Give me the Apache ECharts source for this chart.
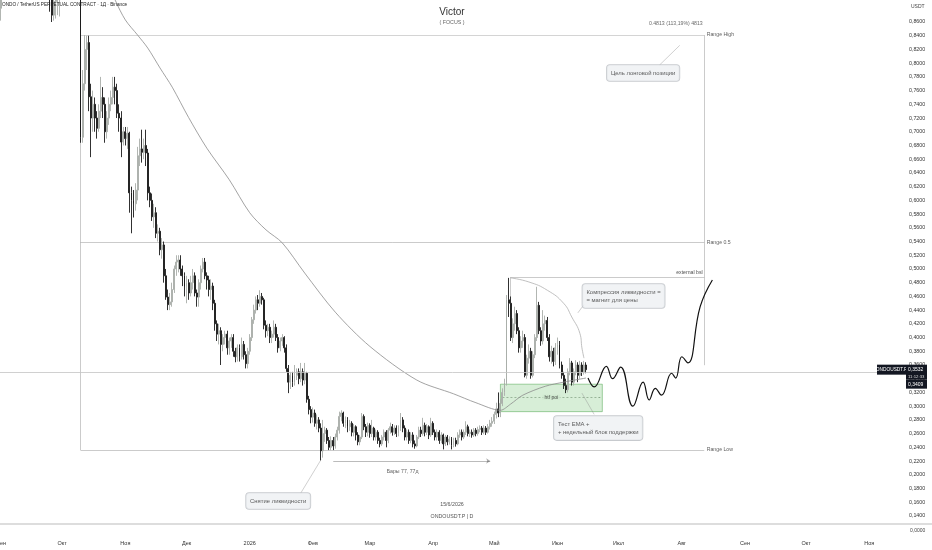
<!DOCTYPE html>
<html><head><meta charset="utf-8">
<script src="https://cdn.jsdelivr.net/npm/echarts@6/dist/echarts.min.js"></script>
<style>html,body{margin:0;padding:0;background:#fff}#c{width:932px;height:550px}</style>
</head><body><div id="c"></div><script>
// ---- DATA ----
const startDay = '2025-09-01';
const totalDays = 444;
const monthNames = ['Янв','Фев','Мар','Апр','Май','Июн','Июл','Авг','Сен','Окт','Ноя','Дек'];
// daily candles from 2025-09-01: [open, close, low, high]
const ohlc = [
[0.880,0.920,0.862,0.940],[0.920,0.940,0.900,0.960],[0.940,0.950,0.920,0.980],[0.950,0.970,0.930,0.990],[0.970,0.950,0.930,0.990],
[0.950,0.960,0.940,0.980],[0.960,0.980,0.950,1.000],[0.980,1.020,0.970,1.040],[1.020,1.050,1.000,1.070],[1.050,1.030,1.010,1.080],
[1.030,1.060,1.020,1.090],[1.060,1.080,1.040,1.110],[1.080,1.100,1.060,1.130],[1.100,1.070,1.050,1.120],[1.070,1.050,1.030,1.090],
[1.050,1.060,1.020,1.080],[1.060,1.030,1.010,1.080],[1.030,1.040,1.000,1.060],[1.040,1.000,0.980,1.050],[1.000,0.970,0.950,1.010],
[0.970,0.980,0.950,1.000],[0.980,0.940,0.920,0.990],[0.940,0.920,0.900,0.960],[0.920,0.930,0.900,0.950],[0.930,0.900,0.875,0.940],
[0.900,0.870,0.860,0.910],[0.870,0.890,0.862,0.900],[0.890,0.900,0.865,0.920],[0.900,0.910,0.870,0.930],[0.910,0.930,0.868,0.950],
[0.930,0.950,0.910,0.970],[0.950,0.970,0.930,0.990],[0.970,0.960,0.940,0.990],[0.960,0.940,0.920,0.980],[0.940,0.950,0.920,0.970],
[0.950,0.930,0.910,0.960],[0.930,0.920,0.900,0.950],[0.920,0.930,0.900,0.950],[0.930,0.910,0.895,0.940],[0.910,0.692,0.684,0.930],
[0.692,0.770,0.684,0.790],[0.770,0.820,0.760,0.841],[0.820,0.830,0.790,0.840],[0.830,0.751,0.730,0.840],[0.751,0.720,0.663,0.770],
[0.720,0.740,0.700,0.760],[0.740,0.720,0.700,0.750],[0.720,0.705,0.690,0.730],[0.705,0.730,0.700,0.740],[0.730,0.750,0.720,0.780],
[0.750,0.740,0.720,0.765],[0.740,0.700,0.684,0.750],[0.700,0.720,0.690,0.730],[0.720,0.740,0.710,0.750],[0.740,0.750,0.730,0.760],
[0.750,0.765,0.740,0.780],[0.765,0.760,0.740,0.780],[0.760,0.727,0.720,0.770],[0.727,0.720,0.700,0.740],[0.720,0.685,0.663,0.730],
[0.685,0.700,0.680,0.707],[0.700,0.690,0.680,0.707],[0.690,0.698,0.675,0.707],[0.698,0.611,0.582,0.700],[0.611,0.600,0.552,0.620],
[0.600,0.595,0.575,0.615],[0.595,0.615,0.585,0.625],[0.615,0.665,0.600,0.678],[0.665,0.675,0.650,0.690],[0.675,0.670,0.655,0.703],
[0.670,0.680,0.660,0.690],[0.680,0.669,0.650,0.703],[0.669,0.611,0.600,0.675],[0.611,0.600,0.590,0.620],[0.600,0.576,0.570,0.610],
[0.576,0.582,0.560,0.595],[0.582,0.552,0.545,0.590],[0.552,0.555,0.540,0.565],[0.555,0.528,0.520,0.560],[0.528,0.535,0.515,0.545],
[0.535,0.490,0.480,0.540],[0.490,0.459,0.455,0.500],[0.459,0.448,0.440,0.470],[0.448,0.452,0.440,0.465],[0.452,0.470,0.445,0.480],
[0.470,0.500,0.465,0.505],[0.500,0.510,0.490,0.520],[0.510,0.513,0.495,0.520],[0.513,0.500,0.490,0.520],[0.500,0.490,0.475,0.505],
[0.490,0.474,0.460,0.495],[0.474,0.480,0.450,0.490],[0.480,0.465,0.455,0.485],[0.465,0.480,0.460,0.490],[0.480,0.490,0.470,0.500],
[0.490,0.465,0.460,0.495],[0.465,0.459,0.445,0.470],[0.459,0.480,0.445,0.485],[0.480,0.500,0.470,0.505],[0.500,0.510,0.495,0.516],
[0.510,0.490,0.485,0.516],[0.490,0.484,0.470,0.495],[0.484,0.470,0.460,0.490],[0.470,0.475,0.455,0.485],[0.475,0.450,0.440,0.480],
[0.450,0.420,0.410,0.455],[0.420,0.405,0.395,0.425],[0.405,0.410,0.390,0.420],[0.410,0.390,0.360,0.415],[0.390,0.400,0.380,0.405],
[0.400,0.405,0.390,0.410],[0.405,0.385,0.375,0.410],[0.385,0.395,0.375,0.400],[0.395,0.400,0.385,0.405],[0.400,0.380,0.372,0.405],
[0.380,0.372,0.364,0.385],[0.372,0.385,0.365,0.390],[0.385,0.372,0.365,0.390],[0.372,0.390,0.368,0.400],[0.390,0.375,0.368,0.395],
[0.375,0.362,0.355,0.380],[0.362,0.380,0.355,0.385],[0.380,0.400,0.375,0.405],[0.400,0.426,0.395,0.430],[0.426,0.440,0.420,0.448],
[0.440,0.455,0.435,0.460],[0.455,0.450,0.440,0.462],[0.450,0.460,0.445,0.469],[0.460,0.455,0.448,0.465],[0.455,0.418,0.412,0.458],
[0.418,0.410,0.400,0.425],[0.410,0.415,0.402,0.420],[0.415,0.400,0.392,0.420],[0.400,0.405,0.392,0.410],[0.405,0.415,0.400,0.425],
[0.415,0.400,0.395,0.420],[0.400,0.385,0.378,0.405],[0.385,0.395,0.380,0.400],[0.395,0.400,0.388,0.405],[0.400,0.385,0.378,0.402],
[0.385,0.355,0.350,0.390],[0.355,0.335,0.319,0.360],[0.335,0.345,0.325,0.350],[0.345,0.335,0.328,0.350],[0.335,0.345,0.330,0.360],
[0.345,0.350,0.338,0.355],[0.350,0.340,0.332,0.355],[0.340,0.350,0.335,0.363],[0.350,0.338,0.330,0.355],[0.338,0.348,0.332,0.363],
[0.348,0.310,0.305,0.350],[0.310,0.295,0.288,0.315],[0.295,0.284,0.275,0.300],[0.284,0.290,0.276,0.298],[0.290,0.275,0.270,0.295],
[0.275,0.280,0.266,0.288],[0.280,0.268,0.262,0.284],[0.268,0.235,0.221,0.275],[0.235,0.260,0.225,0.280],[0.260,0.265,0.248,0.270],
[0.265,0.250,0.245,0.268],[0.250,0.240,0.236,0.255],[0.240,0.250,0.236,0.256],[0.250,0.242,0.236,0.255],[0.242,0.255,0.238,0.260],
[0.255,0.265,0.250,0.270],[0.265,0.285,0.260,0.292],[0.285,0.290,0.278,0.294],[0.290,0.275,0.270,0.292],[0.275,0.280,0.268,0.285],
[0.280,0.270,0.262,0.284],[0.270,0.275,0.264,0.280],[0.275,0.262,0.256,0.278],[0.262,0.270,0.256,0.274],[0.270,0.258,0.250,0.272],
[0.258,0.248,0.243,0.262],[0.248,0.255,0.243,0.258],[0.255,0.285,0.252,0.290],[0.285,0.270,0.265,0.288],[0.270,0.262,0.255,0.274],
[0.262,0.272,0.256,0.276],[0.272,0.260,0.254,0.275],[0.260,0.268,0.255,0.280],[0.268,0.255,0.250,0.270],[0.255,0.262,0.250,0.266],
[0.262,0.250,0.245,0.265],[0.250,0.245,0.240,0.254],[0.245,0.255,0.242,0.258],[0.255,0.262,0.250,0.266],[0.262,0.250,0.240,0.265],
[0.250,0.265,0.246,0.268],[0.265,0.270,0.260,0.276],[0.270,0.262,0.257,0.274],[0.262,0.268,0.258,0.272],[0.268,0.260,0.255,0.272],
[0.260,0.268,0.256,0.272],[0.268,0.280,0.264,0.290],[0.280,0.268,0.262,0.284],[0.268,0.255,0.250,0.272],[0.255,0.262,0.250,0.266],
[0.262,0.250,0.245,0.266],[0.250,0.258,0.246,0.262],[0.258,0.245,0.240,0.262],[0.245,0.242,0.238,0.250],[0.242,0.255,0.240,0.258],
[0.255,0.265,0.252,0.270],[0.265,0.260,0.255,0.270],[0.260,0.272,0.257,0.283],[0.272,0.262,0.256,0.276],[0.262,0.270,0.258,0.274],
[0.270,0.258,0.252,0.272],[0.258,0.275,0.255,0.283],[0.275,0.262,0.258,0.278],[0.262,0.255,0.250,0.266],[0.255,0.262,0.250,0.266],
[0.262,0.250,0.245,0.265],[0.250,0.258,0.246,0.262],[0.258,0.245,0.237,0.260],[0.245,0.255,0.242,0.258],[0.255,0.248,0.243,0.258],
[0.248,0.252,0.244,0.256],[0.252,0.243,0.237,0.255],[0.243,0.250,0.240,0.254],[0.250,0.245,0.241,0.254],[0.245,0.258,0.243,0.262],
[0.258,0.262,0.254,0.266],[0.262,0.255,0.250,0.266],[0.255,0.262,0.252,0.266],[0.262,0.270,0.258,0.278],[0.270,0.260,0.256,0.273],
[0.260,0.262,0.255,0.266],[0.262,0.258,0.254,0.266],[0.258,0.265,0.255,0.268],[0.265,0.260,0.256,0.268],[0.260,0.266,0.257,0.270],
[0.266,0.268,0.262,0.272],[0.268,0.262,0.258,0.271],[0.262,0.268,0.259,0.272],[0.268,0.262,0.258,0.271],[0.262,0.270,0.260,0.274],
[0.270,0.275,0.266,0.280],[0.275,0.278,0.270,0.284],[0.278,0.288,0.274,0.292],[0.288,0.296,0.282,0.305],[0.296,0.290,0.284,0.320],
[0.290,0.304,0.284,0.310],[0.304,0.320,0.300,0.326],[0.320,0.334,0.315,0.340],[0.334,0.455,0.330,0.462],[0.455,0.450,0.430,0.487],
[0.450,0.400,0.395,0.460],[0.400,0.420,0.392,0.428],[0.420,0.435,0.410,0.445],[0.435,0.410,0.405,0.440],[0.410,0.385,0.378,0.415],
[0.385,0.395,0.378,0.402],[0.395,0.400,0.385,0.410],[0.400,0.345,0.342,0.405],[0.345,0.370,0.340,0.375],[0.370,0.380,0.362,0.390],
[0.380,0.345,0.340,0.385],[0.345,0.375,0.342,0.380],[0.375,0.400,0.370,0.405],[0.400,0.447,0.395,0.474],[0.447,0.410,0.405,0.452],
[0.410,0.395,0.388,0.415],[0.395,0.420,0.390,0.440],[0.420,0.425,0.410,0.432],[0.425,0.400,0.395,0.430],[0.400,0.372,0.365,0.405],
[0.372,0.380,0.362,0.388],[0.380,0.365,0.358,0.385],[0.365,0.385,0.360,0.392],[0.385,0.390,0.375,0.400],[0.390,0.360,0.355,0.395],
[0.360,0.345,0.340,0.365],[0.345,0.330,0.325,0.350],[0.330,0.324,0.319,0.340],[0.324,0.350,0.320,0.355],[0.350,0.363,0.345,0.370],
[0.363,0.335,0.330,0.366],[0.335,0.350,0.330,0.355],[0.350,0.360,0.345,0.367],[0.360,0.345,0.335,0.364],[0.345,0.360,0.340,0.366],
[0.360,0.350,0.344,0.364],[0.350,0.360,0.346,0.366],[0.360,0.3532,0.348,0.364]
];
// EMA: [dayIndex, value]
const emaPoints = [[50,0.935],[56,0.892],[61,0.863],[67,0.841],[72,0.822],[78,0.793],[84,0.765],[92,0.721],[101,0.676],[112,0.630],[122,0.582],[130,0.557],[138,0.538],[149,0.494],[164,0.437],[181,0.387],[204,0.338],[222,0.318],[233,0.305],[245,0.294],[250,0.303],[256,0.316],[267,0.329],[276,0.335],[287,0.341]];
const emaLast = 0.3409;
// projected path
const wavePoints = [[288,0.341],[291,0.328],[297,0.358],[300,0.340],[304,0.357],[310,0.300],[315,0.335],[318,0.309],[321,0.326],[324,0.316],[329,0.348],[331,0.341],[334,0.372],[337,0.363],[343,0.445],[349,0.484]];
// compression arc
const arcPoints = [[250,0.487],[259,0.481],[268,0.469],[276,0.450],[280,0.430],[284,0.406],[285,0.385],[286,0.370]];
// range levels
const rangeLevels = [0.841, 0.5385, 0.236];
const rangeNames = ['Range High', 'Range 0.5', 'Range Low'];
const rangeDays = [39, 345];
const measureLow = 0.3597;
const measureText = '0.4813 (113,19%) 4813';
const bslLevel = 0.488, bslDay = 250, bslLow = 0.46;
const poiBox = [245, 295, 0.332, 0.292];
const poiLevel = 0.313, poiDays = [246, 294];
const barsArrow = [163, 240, 0.220];
const barsText = 'Бары 77, 77д';
const barsTextPos = [197, 0.204];
// callouts: [text, leftDay, centerPrice]
const callouts = [
  ['Снятие ликвидности', 120, 0.1617],
  ['Тест EMA +\n+ недельный блок поддержки', 271, 0.268],
  ['Компрессия ликвидности =\n= магнит для цены', 285, 0.4605],
  ['Цель лонговой позиции', 297, 0.7856]
];
const pointers = [
  [[147,0.173],[157,0.222]],
  [[291,0.288],[285,0.319]],
  [[286,0.448],[283,0.436]],
  [[323,0.797],[333,0.826]]
];
const symbolTitle = 'ONDO / TetherUS PERPETUAL CONTRACT · 1Д · Binance';
const lastClose = ohlc[ohlc.length-1][1];

// ---- BUILD ----
const categories = [];
const t0 = Date.parse(startDay + 'T00:00:00Z');
for (let i = 0; i < totalDays; i++) categories.push(new Date(t0 + i * 86400000).toISOString().slice(0, 10));

const FONT = 'Liberation Sans, Arial, sans-serif';
const fmtPrice = v => v.toFixed(4).replace('.', ',');
const segItem = (coords, style) => ({coords, lineStyle: style});
const thin = {color:'#7d7d7d', width:0.8};

const segs = [
  segItem([[rangeDays[0], rangeLevels[0]],[rangeDays[1], rangeLevels[0]]], {color:'#a9a9a9', width:1.2}),
  segItem([[rangeDays[0], rangeLevels[1]],[rangeDays[1], rangeLevels[1]]], thin),
  segItem([[rangeDays[0], rangeLevels[2]],[rangeDays[1], rangeLevels[2]]], thin),
  segItem([[rangeDays[0], rangeLevels[0]],[rangeDays[0], rangeLevels[2]]], thin),
  segItem([[rangeDays[1], rangeLevels[0]],[rangeDays[1], measureLow]], thin),
  segItem([[bslDay, bslLevel],[rangeDays[1], bslLevel]], thin),
  segItem([[bslDay, bslLevel],[bslDay, bslLow]], thin),
  segItem([[poiDays[0], poiLevel],[poiDays[1], poiLevel]], {color:'#3d5f3d', width:0.8, type:[2,2]}),
  ...pointers.map(p => segItem(p, {color:'#8a8a8a', width:0.8}))
];

const textItems = [];
rangeNames.forEach((n, i) => textItems.push({value:[rangeDays[1], rangeLevels[i]], label:{show:true, formatter:n, position:'right', distance:2, fontSize:5.2, color:'#333', fontFamily:FONT}}));
textItems.push({value:[rangeDays[1], bslLevel], label:{show:true, formatter:'external bsl', position:'left', distance:1, offset:[0,-5], fontSize:5.2, color:'#222', fontFamily:FONT}});
textItems.push({value:[rangeDays[1], 0.857], label:{show:true, formatter:measureText, position:'left', distance:1, fontSize:5.2, color:'#444', fontFamily:FONT}});
textItems.push({value:[(poiDays[0]+poiDays[1])/2|0, poiLevel], label:{show:true, formatter:'htf poi', position:'inside', fontSize:5, color:'#222', backgroundColor:'#cfe9cf', padding:[0,2], fontFamily:FONT}});
textItems.push({value:barsTextPos, label:{show:true, formatter:barsText, position:'inside', fontSize:5.2, color:'#333', fontFamily:FONT}});
callouts.forEach(c => textItems.push({value:[c[1], c[2]], label:{show:true, formatter:c[0], position:'right', distance:0, align:'left', verticalAlign:'middle', fontSize:5.9, lineHeight:8, color:'#333', fontFamily:FONT, backgroundColor:'#eef0f2', borderColor:'#b9bdc2', borderWidth:0.8, borderRadius:3, padding:[4,4]}}));

const chart = echarts.init(document.getElementById('c'), null, {renderer:'canvas'});
const option = {
  animation:false,
  backgroundColor:'#ffffff',
  grid:{left:0, width:905, top:-5.44, height:535.08, containLabel:false, outerBoundsMode:'none'},
  xAxis:{type:'category', data:categories, boundaryGap:true,
    axisLine:{show:false}, axisTick:{show:false}, splitLine:{show:false},
    axisLabel:{margin:11, fontSize:5.5, color:'#333', fontFamily:FONT, hideOverlap:false,
      interval:(i, v) => v.slice(8) === '01',
      formatter:v => { const m = +v.slice(5,7); return m === 1 ? v.slice(0,4) : monthNames[m-1]; }}},
  yAxis:{type:'value', position:'right', min:0.12, max:0.90, interval:0.02,
    axisLine:{show:false}, axisTick:{show:false}, splitLine:{show:false},
    axisLabel:{margin:4, fontSize:5.3, color:'#333', fontFamily:FONT, showMinLabel:true, showMaxLabel:true,
      formatter:v => (v < 0.139 || v > 0.861) ? '' : fmtPrice(v)}},
  series:[
    {type:'line', data:[], z:1, silent:true,
      markArea:{silent:true, itemStyle:{color:'rgba(140,205,140,0.35)', borderColor:'rgba(90,170,90,0.7)', borderWidth:0.8},
        data:[[{coord:[poiBox[0], poiBox[2]]},{coord:[poiBox[1], poiBox[3]]}]]}},
    {type:'lines', coordinateSystem:'cartesian2d', z:2, silent:true, data:segs},
    {type:'lines', coordinateSystem:'cartesian2d', z:2, silent:true, symbol:['none','arrow'], symbolSize:4,
      lineStyle:{color:'#555', width:0.8}, data:[{coords:[[barsArrow[0], barsArrow[2]],[barsArrow[1], barsArrow[2]]]}]},
    {type:'candlestick', data:ohlc, barWidth:'70%', z:3,
      itemStyle:{color:'#a9aea9', color0:'#1a1a1a', borderColor:'#a9aea9', borderColor0:'#1a1a1a', borderWidth:0.9},
      markLine:{silent:true, symbol:'none', label:{show:false}, lineStyle:{color:'#c4c4c4', width:0.8, type:'solid'}, data:[{yAxis:lastClose}]}},
    {type:'line', data:emaPoints, smooth:0.3, showSymbol:false, z:4, lineStyle:{color:'#8c8c8c', width:0.8}},
    {type:'line', data:arcPoints, smooth:0.5, showSymbol:false, z:4, lineStyle:{color:'#b0b0b0', width:0.8}},
    {type:'line', data:wavePoints, smooth:0.45, showSymbol:false, z:5, lineStyle:{color:'#111', width:1.2}},
    {type:'scatter', data:textItems, symbolSize:1, z:6, silent:true, itemStyle:{color:'rgba(0,0,0,0)'}}
  ]
};
chart.setOption(option);

const yLast = chart.convertToPixel({yAxisIndex:0}, lastClose);
const txt = (x, y, s, size, fill, align, weight) => ({type:'text', x, y, style:{text:s, fontSize:size, fill, align:align||'left', verticalAlign:'middle', fontFamily:FONT, fontWeight:weight||'normal'}, z:100});
chart.setOption({graphic:[
  {type:'line', shape:{x1:0, y1:524, x2:932, y2:524}, style:{stroke:'#d2d2d2', lineWidth:1.5}, z:90},
  txt(2, 5, symbolTitle, 4.7, '#222'),
  txt(452, 12, 'Victor', 10, '#333', 'center'),
  txt(452, 23, '( FOCUS )', 5.3, '#666', 'center'),
  txt(452, 505, '15/6/2026', 5.3, '#555', 'center'),
  txt(452, 517, 'ONDOUSDT.P | D', 5.3, '#555', 'center'),
  txt(911, 7, 'USDT', 5, '#444'),
  txt(910, 531, '0,0000', 5, '#444'),
  {type:'rect', shape:{x:877, y:yLast-5, width:29, height:10}, style:{fill:'#131722'}, z:100},
  txt(891.5, yLast, 'ONDOUSDT.P', 4.8, '#fff', 'center'),
  {type:'rect', shape:{x:906, y:yLast-5, width:21, height:15}, style:{fill:'#131722'}, z:100},
  txt(908, yLast, fmtPrice(lastClose), 5, '#fff'),
  txt(908, yLast+7, '11:12:33', 4.3, '#ddd'),
  {type:'rect', shape:{x:906, y:yLast+10, width:21, height:9}, style:{fill:'#131722'}, z:100},
  txt(908, yLast+14.5, fmtPrice(emaLast), 5, '#fff')
]});
</script></body></html>
